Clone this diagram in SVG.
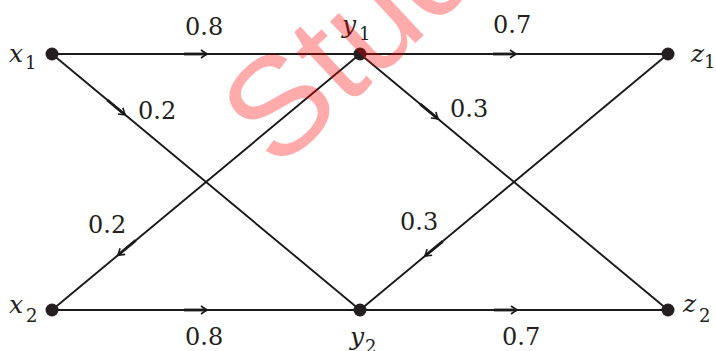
<svg xmlns="http://www.w3.org/2000/svg" width="716" height="351" viewBox="0 0 716 351">
<style>
.edge{stroke:#1a1a1a;stroke-width:1.9;fill:none}
.node{fill:#231f20}
.lbl{font-family:"DejaVu Serif",serif;font-size:24px;fill:#231f20}
.var{font-family:"DejaVu Serif",serif;font-style:italic;font-size:25px;fill:#231f20}
.sub{font-family:"DejaVu Serif",serif;font-size:18px;fill:#231f20}
.wm{font-family:"Liberation Sans",Arial,sans-serif;font-size:140px;fill:#ff0000;fill-opacity:0.33}
</style>
<defs>
<g id="arr">
<line x1="-23" y1="0" x2="-1" y2="0" stroke="#1a1a1a" stroke-width="2.8"/>
<path d="M-6,-4 Q-2,-1 0.5,0 Q-2,1 -6,4" stroke="#1a1a1a" stroke-width="1.6" fill="none"/>
</g>
</defs>
<g id="connectors">
<line class="edge" x1="52" y1="54" x2="360" y2="54"/>
<line class="edge" x1="360" y1="54" x2="668" y2="54"/>
<line class="edge" x1="52" y1="310" x2="360" y2="310"/>
<line class="edge" x1="360" y1="310" x2="668" y2="310"/>
<line class="edge" x1="52" y1="54" x2="360" y2="310"/>
<line class="edge" x1="360" y1="54" x2="52" y2="310"/>
<line class="edge" x1="360" y1="54" x2="668" y2="310"/>
<line class="edge" x1="668" y1="54" x2="360" y2="310"/>
<use href="#arr" transform="translate(207,54)"/>
<use href="#arr" transform="translate(516,54)"/>
<use href="#arr" transform="translate(207,310)"/>
<use href="#arr" transform="translate(517,310)"/>
<use href="#arr" transform="translate(125,114.7) rotate(39.7)"/>
<use href="#arr" transform="translate(438,118.8) rotate(39.7)"/>
<use href="#arr" transform="translate(118,255.1) rotate(140.3)"/>
<use href="#arr" transform="translate(425,256) rotate(140.3)"/>
<text class="lbl" x="185" y="35">0.8</text>
<text class="lbl" x="493" y="33">0.7</text>
<text class="lbl" x="138" y="119">0.2</text>
<text class="lbl" x="450" y="117">0.3</text>
<text class="lbl" x="88" y="233">0.2</text>
<text class="lbl" x="400" y="230">0.3</text>
<text class="lbl" x="185" y="345">0.8</text>
<text class="lbl" x="502" y="345">0.7</text>
</g>
<g id="x1"><circle class="node" cx="52" cy="54" r="6.5"/><text class="var" x="9" y="62">x</text><text class="sub" x="25" y="69">1</text></g>
<g id="y1"><circle class="node" cx="360" cy="54" r="6.5"/><text class="var" x="342" y="33">y</text><text class="sub" x="359" y="40">1</text></g>
<g id="z1"><circle class="node" cx="668" cy="54" r="6.5"/><text class="var" x="691" y="62">z</text><text class="sub" x="704" y="68">1</text></g>
<g id="x2"><circle class="node" cx="52" cy="310" r="6.5"/><text class="var" x="9" y="313">x</text><text class="sub" x="26" y="322">2</text></g>
<g id="y2"><circle class="node" cx="360" cy="310" r="6.5"/><text class="var" x="350" y="345">y</text><text class="sub" x="365" y="353">2</text></g>
<g id="z2"><circle class="node" cx="668" cy="310" r="6.5"/><text class="var" x="683" y="312">z</text><text class="sub" x="699" y="322">2</text></g>
<text class="wm" x="277" y="172" transform="rotate(-43 277 172)">Stud</text>
</svg>
